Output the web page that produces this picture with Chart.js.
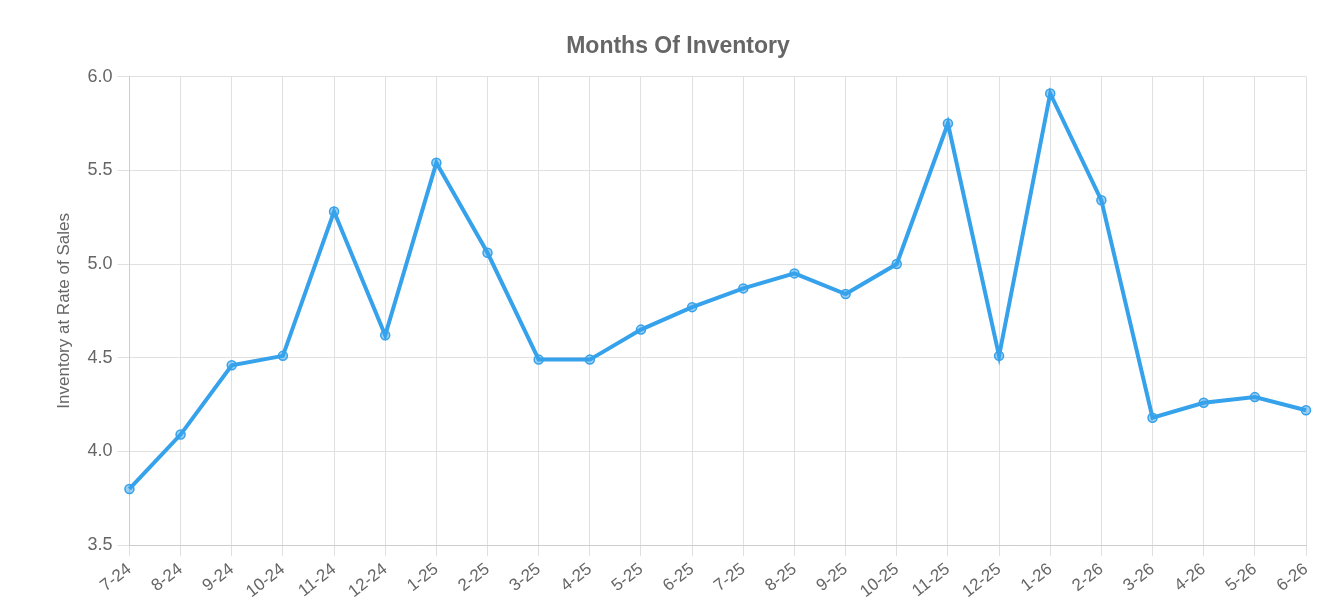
<!DOCTYPE html>
<html>
<head>
<meta charset="utf-8">
<script src="https://cdn.jsdelivr.net/npm/chart.js@4.4.1/dist/chart.umd.min.js"></script>
<style>
    html, body { margin: 0; padding: 0; background: #fff; }
    #wrap { width: 1342px; height: 613px; }
</style>
</head>
<body>
<div id="wrap"><canvas id="inventoryChart"></canvas></div>
<script>
// Chart data
const months = ['7-24', '8-24', '9-24', '10-24', '11-24', '12-24', '1-25', '2-25', '3-25', '4-25',
    '5-25', '6-25', '7-25', '8-25', '9-25', '10-25', '11-25', '12-25', '1-26', '2-26',
    '3-26', '4-26', '5-26', '6-26'];
const inventory = [3.80, 4.09, 4.46, 4.51, 5.28, 4.62, 5.54, 5.06, 4.49, 4.49,
    4.65, 4.77, 4.87, 4.95, 4.84, 5.00, 5.75, 4.51, 5.91, 5.34,
    4.18, 4.26, 4.29, 4.22];
const yMin = 3.5;
const yMax = 6.0;
const yStep = 0.5;

Chart.defaults.font.family = '"Liberation Sans", Arial, Helvetica, sans-serif';
Chart.defaults.color = '#666';

const ctx = document.getElementById('inventoryChart').getContext('2d');
new Chart(ctx, {
    type: 'line',
    data: {
        labels: months,
        datasets: [{
            label: 'Months Of Inventory',
            data: inventory,
            borderColor: '#36a2eb',
            backgroundColor: 'rgba(54, 162, 235, 0.5)',
            borderWidth: 4,
            pointRadius: 4.5,
            pointBorderWidth: 1.5,
            pointBackgroundColor: 'rgba(54, 162, 235, 0.5)',
            tension: 0,
            fill: false
        }]
    },
    options: {
        responsive: true,
        maintainAspectRatio: false,
        animation: false,
        layout: { padding: { left: 50, right: 36, top: 13, bottom: 8 } },
        plugins: {
            legend: { display: false },
            title: {
                display: true,
                text: 'Months Of Inventory',
                font: { size: 23, weight: 'bold' },
                color: '#666',
                padding: { top: 20, bottom: 16 }
            },
            tooltip: { enabled: false }
        },
        scales: {
            x: {
                grid: { color: '#e0e0e0', tickLength: 11 },
                border: { color: '#ccc' },
                ticks: { font: { size: 17 }, maxRotation: 38, minRotation: 38, padding: 3 }
            },
            y: {
                min: yMin,
                max: yMax,
                grid: { color: '#e0e0e0', tickLength: 12 },
                border: { color: '#ccc' },
                ticks: {
                    stepSize: yStep,
                    font: { size: 18 },
                    padding: 5,
                    callback: v => v.toFixed(1)
                },
                title: {
                    display: true,
                    text: 'Inventory at Rate of Sales',
                    font: { size: 17 },
                    padding: { bottom: 8 }
                }
            }
        }
    }
});
</script>
</body>
</html>
